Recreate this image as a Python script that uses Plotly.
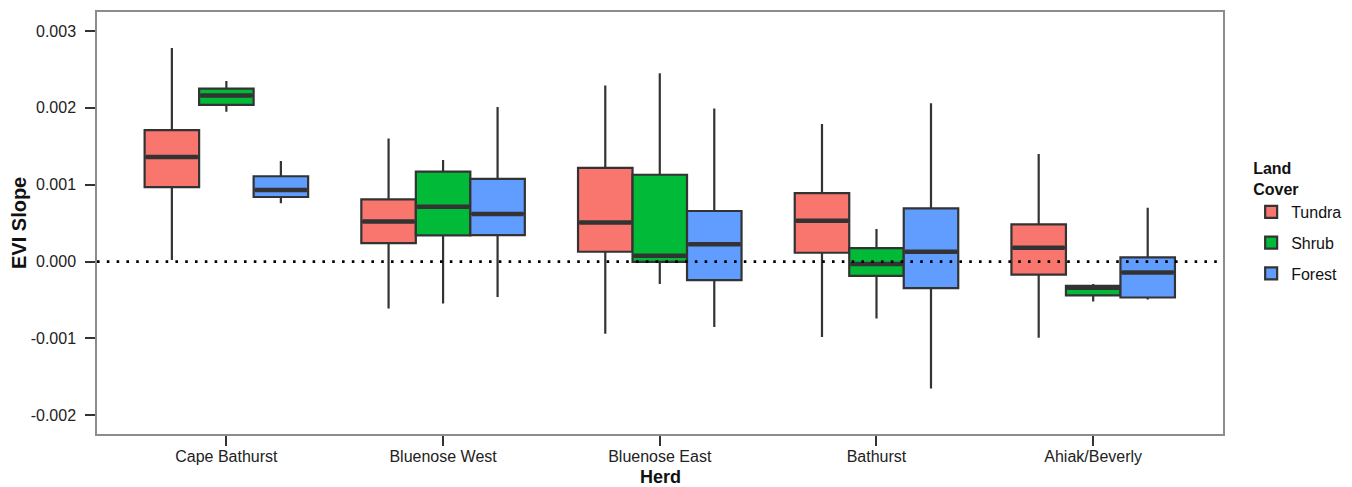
import plotly.graph_objects as go

herds = ["Cape Bathurst", "Bluenose West", "Bluenose East", "Bathurst", "Ahiak/Beverly"]
covers = ["Tundra", "Shrub", "Forest"]
colors = {"Tundra": "#F8766D", "Shrub": "#00BA38", "Forest": "#619CFF"}

# per land cover, one value per herd
tundra_low    = [0.00002, -0.00061, -0.00094, -0.00098, -0.00099]
tundra_q1     = [0.00097, 0.00024, 0.000128, 0.000115, -0.00017]
tundra_median = [0.00136, 0.00052, 0.00051, 0.00053, 0.00018]
tundra_q3     = [0.00171, 0.00081, 0.00122, 0.00089, 0.000485]
tundra_high   = [0.00278, 0.00160, 0.00229, 0.00179, 0.00140]

shrub_low     = [0.00195, -0.000545, -0.00029, -0.00074, -0.00052]
shrub_q1      = [0.00204, 0.00034, -0.000003, -0.000185, -0.00044]
shrub_median  = [0.00216, 0.000715, 0.000075, -0.000033, -0.00034]
shrub_q3      = [0.00225, 0.00117, 0.00113, 0.000176, -0.000315]
shrub_high    = [0.00235, 0.00132, 0.00245, 0.000424, -0.000293]

forest_low    = [0.00076, -0.00046, -0.00085, -0.00165, -0.000493]
forest_q1     = [0.00084, 0.000345, -0.00024, -0.000345, -0.000467]
forest_median = [0.00093, 0.00062, 0.000224, 0.000128, -0.000141]
forest_q3     = [0.00111, 0.001076, 0.000658, 0.000693, 0.000055]
forest_high   = [0.00131, 0.00201, 0.00199, 0.00206, 0.000702]

y_ticks = [0.003, 0.002, 0.001, 0.0, -0.001, -0.002]
y_tick_labels = ["0.003", "0.002", "0.001", "0.000", "-0.001", "-0.002"]

x_title = "Herd"
y_title = "EVI Slope"
legend_title = "Land<br>Cover"

stats = {
    "Tundra": (tundra_low, tundra_q1, tundra_median, tundra_q3, tundra_high),
    "Shrub": (shrub_low, shrub_q1, shrub_median, shrub_q3, shrub_high),
    "Forest": (forest_low, forest_q1, forest_median, forest_q3, forest_high),
}

box_w = 0.2515
offsets = {"Tundra": -box_w, "Shrub": 0.0, "Forest": box_w}
edge = "#333333"
font_family = "Liberation Sans, Arial, sans-serif"

fig = go.Figure()
for cover in covers:
    low, q1, med, q3, high = stats[cover]
    xs = [i + offsets[cover] for i in range(len(herds))]
    fig.add_trace(go.Box(
        name=cover, x=xs, q1=q1, median=med, q3=q3,
        lowerfence=low, upperfence=high,
        width=box_w, whiskerwidth=0,
        fillcolor=colors[cover],
        line=dict(color=edge, width=2.2),
        marker=dict(size=0, opacity=0),
        boxpoints=False, legendgroup=cover,
        hoverinfo="skip",
    ))

# thick median bars
for cover in covers:
    low, q1, med, q3, high = stats[cover]
    mx, my = [], []
    for i, m in enumerate(med):
        c = i + offsets[cover]
        mx += [c - box_w / 2 + 0.006, c + box_w / 2 - 0.006, None]
        my += [m, m, None]
    fig.add_trace(go.Scatter(
        x=mx, y=my, mode="lines",
        line=dict(color=edge, width=4.5),
        showlegend=False, hoverinfo="skip", legendgroup=cover,
    ))

fig.add_shape(type="line", xref="paper", yref="y", x0=0, x1=1, y0=0, y1=0,
              line=dict(color="black", width=2.6, dash="2.6px,7.2px"), layer="above")

# axis titles as annotations (exact placement)
fig.add_annotation(text="<b>" + x_title + "</b>", xref="paper", yref="paper",
                   x=0.5, y=0, xanchor="center", yanchor="middle", yshift=-43,
                   borderpad=0, showarrow=False, font=dict(size=18, color="#111111"))
fig.add_annotation(text="<b>" + y_title + "</b>", xref="paper", yref="paper",
                   x=0, y=0.5, xanchor="center", yanchor="middle", xshift=-78,
                   textangle=-90, showarrow=False, font=dict(size=20, color="#111111"))

fig.update_layout(
    width=1344, height=479,
    margin=dict(l=89, r=129, t=4, b=53),
    paper_bgcolor="white", plot_bgcolor="white",
    font=dict(family=font_family, size=16, color="#222222"),
    showlegend=True,
    legend=dict(
        title=dict(text="<b>" + legend_title + "</b>", font=dict(size=16, color="#111111")),
        x=1.025, xanchor="left", y=0.665, yanchor="top",
        font=dict(size=16, color="#111111"),
        tracegroupgap=7, traceorder="grouped",
        bgcolor="rgba(0,0,0,0)",
    ),
    xaxis=dict(
        range=[-0.597, 4.599],
        tickmode="array", tickvals=list(range(len(herds))), ticktext=herds,
        ticks="outside", ticklen=10, tickwidth=2, tickcolor=edge,
        ticklabelstandoff=-3, automargin=False,
        showgrid=False, zeroline=False,
        showline=True, mirror=True, linecolor="#8c8c8c", linewidth=1.5,
        tickfont=dict(size=16, color="#222222"),
    ),
    yaxis=dict(
        range=[-0.002243, 0.003247],
        tickmode="array", tickvals=y_ticks, ticktext=y_tick_labels,
        ticks="outside", ticklen=10, tickwidth=2, tickcolor=edge,
        ticklabelstandoff=6, automargin=False,
        showgrid=False, zeroline=False,
        showline=True, mirror=True, linecolor="#8c8c8c", linewidth=1.5,
        tickfont=dict(size=16, color="#222222"),
    ),
)

fig.write_html("out.html")
